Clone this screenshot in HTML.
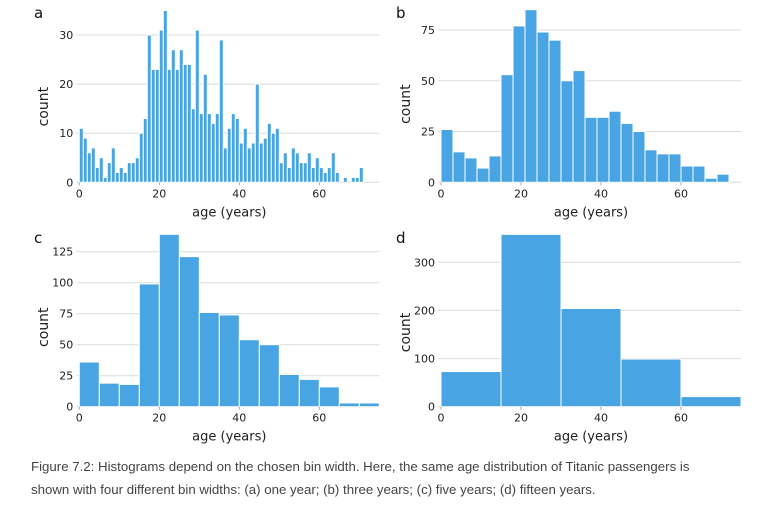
<!DOCTYPE html>
<html><head><meta charset="utf-8"><style>
body{margin:0;background:#fff;width:766px;height:514px;overflow:hidden;font-family:"Liberation Sans",sans-serif}
svg text{font-family:"DejaVu Sans","Liberation Sans",sans-serif}
.cap{position:absolute;left:31px;top:455px;font-size:13.25px;color:#444;line-height:23px;font-family:"Liberation Sans",sans-serif;white-space:nowrap}
</style></head><body>
<svg id="chart" width="766" height="514" style="position:absolute;left:0;top:0"></svg>
<div class="cap">Figure 7.2: Histograms depend on the chosen bin width. Here, the same age distribution of Titanic passengers is<br>shown with four different bin widths: (a) one year; (b) three years; (c) five years; (d) fifteen years.</div>
<script>
const countsA=[11,9,6,7,3,5,1,4,7,2,3,2,4,4,5,10,13,30,23,23,31,35,23,27,23,27,24,24,15,31,14,22,14,12,14,29,7,11,14,13,8,11,7,8,20,8,9,12,10,11,4,6,3,7,6,4,4,6,3,5,3,2,3,6,2,0,1,0,1,1,3];
const countsB=[26,15,12,7,13,53,77,85,74,70,50,55,32,32,35,29,25,16,14,14,8,8,2,4];
const countsC=[36,19,18,99,139,121,76,74,54,50,26,22,16,3,3];
const countsD=[73,358,204,99,21];
const binWidths=[1,3,5,15];
const yTicksA=[0,10,20,30],yTicksB=[0,25,50,75],yTicksC=[0,25,50,75,100,125],yTicksD=[0,100,200,300];
const xTicks=[0,20,40,60];
const panelLabels=['a','b','c','d'];
const NS='http://www.w3.org/2000/svg';
const svg=document.getElementById('chart');
function mk(t,a,p){const e=document.createElementNS(NS,t);for(const k in a)e.setAttribute(k,a[k]);(p||svg).appendChild(e);return e;}
const panels=[
 {c:countsA,bw:1,yt:yTicksA,ymax:30,ytop:35,x0:79.3,y0:182.3,lab:'a',lx:32,ly:18},
 {c:countsB,bw:3,yt:yTicksB,ymax:75,ytop:30,x0:441,y0:182.3,lab:'b',lx:394,ly:18},
 {c:countsC,bw:5,yt:yTicksC,ymax:125,ytop:251.7,x0:79.3,y0:406.7,lab:'c',lx:32,ly:243},
 {c:countsD,bw:15,yt:yTicksD,ymax:300,ytop:262.3,x0:441,y0:406.7,lab:'d',lx:394,ly:243}];
panels.forEach((p,i)=>{
 const g=mk('g',{});
 
 
 const sx=v=>p.x0+v*4.0;
 const ky=(p.y0-p.ytop)/p.ymax;
 const sy=v=>p.y0-v*ky;
 p.yt.forEach(t=>{
  const l=mk('line',{x1:p.x0-3,x2:p.x0+300,y1:sy(t),y2:sy(t),stroke:'#dcdcdc','stroke-width':1},g);
  
  
  const tx=mk('text',{x:p.x0-6,y:sy(t)+4,'text-anchor':'end','font-size':11,fill:'#222'},g);
  tx.textContent=t;
  
  
 });
 p.c.forEach((v,j)=>{
  const r=mk('rect',{x:sx(j*p.bw),y:sy(v),width:p.bw*4,height:v*ky,fill:'#48a4e2',stroke:'#fff','stroke-width':1},g);
  
  
 });
 xTicks.forEach(t=>{
  mk('line',{x1:sx(t),x2:sx(t),y1:p.y0,y2:p.y0+3,stroke:'#aaa'},g);
  const tx=mk('text',{x:sx(t),y:p.y0+15,'text-anchor':'middle','font-size':11,fill:'#222'},g);
  tx.textContent=t;
  
  
 });
 const xt=mk('text',{x:p.x0+150,y:p.y0+34,'text-anchor':'middle','font-size':13,fill:'#222'},g);
 xt.textContent='age (years)';
 
 
 const cy=(p.y0+p.ytop)/2-2;
 const yx=p.lx+12;
 const yt=mk('text',{x:yx,y:cy+4,'text-anchor':'middle','font-size':14,fill:'#222',transform:`rotate(-90 ${yx} ${cy})`},g);
 yt.textContent='count';
 
 
 const pl=mk('text',{x:p.lx+2,y:p.ly,'font-size':15,fill:'#111'},g);
 pl.textContent=p.lab;
 
 
});
</script>
</body></html>
